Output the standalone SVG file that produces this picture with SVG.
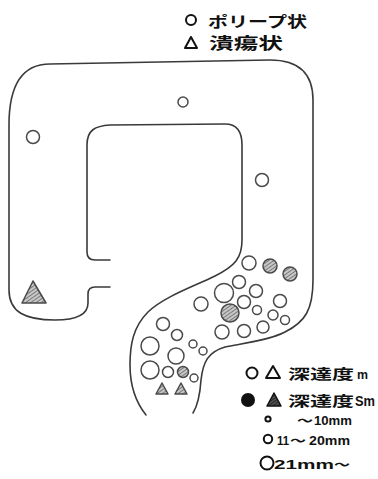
<svg xmlns="http://www.w3.org/2000/svg" width="378" height="479" viewBox="0 0 378 479">
  <defs>
    <pattern id="hatch" patternUnits="userSpaceOnUse" width="3" height="3" patternTransform="rotate(-35)">
      <rect width="3" height="3" fill="#c8c8c8"/>
      <line x1="0" y1="1.5" x2="3" y2="1.5" stroke="#707070" stroke-width="0.9"/>
    </pattern>
    <pattern id="hatchDark" patternUnits="userSpaceOnUse" width="2.5" height="2.5" patternTransform="rotate(-35)">
      <rect width="2.5" height="2.5" fill="#555"/>
      <line x1="0" y1="1.25" x2="2.5" y2="1.25" stroke="#222" stroke-width="1"/>
    </pattern>
  </defs>
  <style>
    .wall { fill: none; stroke: #3a3a3a; stroke-width: 1.6; stroke-linecap: round; }
    .les { fill: #fff; stroke: #4a4a4a; stroke-width: 1.5; }
    .hat { fill: url(#hatch); stroke: #4a4a4a; stroke-width: 1.5; }
    .key { fill: none; stroke: #111; stroke-width: 2; }
    .jp { font-family: "Noto Sans CJK JP", "Noto Sans", sans-serif; font-weight: 700; fill: #111; }
    .num { font-family: "Liberation Sans", "DejaVu Sans", sans-serif; font-weight: 700; fill: #111; }
  </style>
  <rect width="378" height="479" fill="#fff"/>

  <!-- legend: lesion shape -->
  <g id="legend-shape">
    <circle class="key" cx="191" cy="20" r="5"/>
    <text class="jp" x="208" y="27" font-size="15" textLength="99" lengthAdjust="spacingAndGlyphs">ポリープ状</text>
    <polygon class="key" points="191,37 185,48 197,48" stroke-linejoin="round"/>
    <text class="jp" x="209" y="49" font-size="16" textLength="74" lengthAdjust="spacingAndGlyphs">潰瘍状</text>
  </g>

  <!-- organ outline -->
  <g id="outline">
    <path class="wall" d="M110,287 L95,287 Q88,287 88,294 L88,303 C88,316 75,320 55,320 C25,320 9,312 9,290 L9,125 C9,85 22,64 50,64 L270,60 C300,60 313,75 313,100 L313,280 C313,310 305,322 285,332 C270,340 245,343 225,347 C208,352 203,362 201,380 C200,395 198,405 193,413"/>
    <path class="wall" d="M110,260 L95,260 Q87,260 87,252 L87,145 C87,130 95,126 110,125 L225,124 C237,124 242,132 242,145 L242,240 C242,258 235,266 215,276 C195,286 165,296 148,312 C133,327 130,345 130,365 C130,390 138,405 146,415"/>
  </g>

  <!-- lesions -->
  <g id="lesions">
    <circle class="les" cx="183" cy="102" r="5"/>
    <circle class="les" cx="33" cy="137" r="6.5"/>
    <circle class="les" cx="262" cy="180" r="6.5"/>
    <polygon class="hat" points="33,281 22,303 46,303" stroke-linejoin="round"/>

    <circle class="les" cx="249" cy="263" r="7"/>
    <circle class="hat" cx="270" cy="266" r="7"/>
    <circle class="hat" cx="290" cy="274" r="7"/>
    <circle class="les" cx="239" cy="282" r="6.5"/>
    <circle class="les" cx="224" cy="293" r="9.5"/>
    <circle class="les" cx="256" cy="291" r="6.5"/>
    <circle class="les" cx="244" cy="302" r="6.5"/>
    <circle class="les" cx="280" cy="301" r="6.5"/>
    <circle class="les" cx="201" cy="304" r="7"/>
    <circle class="hat" cx="230" cy="313" r="9"/>
    <circle class="les" cx="257" cy="310" r="4.5"/>
    <circle class="les" cx="273" cy="315" r="5"/>
    <circle class="les" cx="285" cy="320" r="4.5"/>
    <circle class="les" cx="222" cy="332" r="7"/>
    <circle class="les" cx="244" cy="331" r="6.5"/>
    <circle class="les" cx="263" cy="327" r="6"/>

    <circle class="les" cx="163" cy="324" r="6.5"/>
    <circle class="les" cx="177" cy="335" r="5.5"/>
    <circle class="les" cx="150" cy="346" r="9"/>
    <circle class="les" cx="193" cy="344" r="4"/>
    <circle class="les" cx="203" cy="351" r="4"/>
    <circle class="les" cx="176" cy="356" r="8"/>
    <circle class="les" cx="150" cy="370" r="9"/>
    <circle class="les" cx="168" cy="372" r="5.5"/>
    <circle class="hat" cx="183" cy="372" r="5.5"/>
    <circle class="les" cx="194" cy="378" r="4"/>
    <polygon class="hat" points="162,383 156,394 168,394" stroke-linejoin="round"/>
    <polygon class="hat" points="181,383 175,394 187,394" stroke-linejoin="round"/>
  </g>

  <!-- legend: depth and size -->
  <g id="legend-depth">
    <circle class="key" cx="252" cy="373" r="5.5"/>
    <polygon class="key" points="273,366 266,378 280,378" stroke-linejoin="round"/>
    <text class="jp" x="288" y="379" font-size="14" textLength="66" lengthAdjust="spacingAndGlyphs">深達度</text>
    <text class="num" x="357" y="379" font-size="12" textLength="11" lengthAdjust="spacingAndGlyphs">m</text>

    <circle cx="248" cy="400" r="7" fill="#111"/>
    <polygon points="274,393 267,406 281,406" fill="url(#hatchDark)" stroke="#111" stroke-width="1.5" stroke-linejoin="round"/>
    <text class="jp" x="288" y="406" font-size="14" textLength="66" lengthAdjust="spacingAndGlyphs">深達度</text>
    <text class="num" x="355" y="406" font-size="14" textLength="20" lengthAdjust="spacingAndGlyphs">Sm</text>

    <circle class="key" cx="268" cy="419" r="2.6" stroke-width="1.6"/>
    <text class="jp" x="297" y="425" font-size="11" textLength="16" lengthAdjust="spacingAndGlyphs">〜</text>
    <text class="num" x="314" y="425" font-size="13" textLength="38" lengthAdjust="spacingAndGlyphs">10mm</text>

    <circle class="key" cx="268" cy="439" r="4.2" stroke-width="2.4"/>
    <text class="num" x="277" y="445" font-size="13" textLength="12" lengthAdjust="spacingAndGlyphs">11</text>
    <text class="jp" x="290" y="445" font-size="11" textLength="16" lengthAdjust="spacingAndGlyphs">〜</text>
    <text class="num" x="309" y="445" font-size="13" textLength="41" lengthAdjust="spacingAndGlyphs">20mm</text>

    <circle class="key" cx="267" cy="463" r="6.5" stroke-width="1.8"/>
    <text class="num" x="274" y="469" font-size="13" textLength="60" lengthAdjust="spacingAndGlyphs">21mm</text>
    <text class="jp" x="334" y="469" font-size="11" textLength="16" lengthAdjust="spacingAndGlyphs">〜</text>
  </g>
</svg>
